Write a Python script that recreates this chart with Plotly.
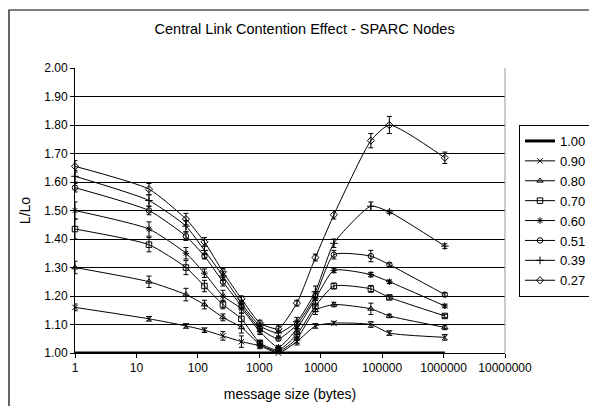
import plotly.graph_objects as go

sizes = [1, 16, 64, 128, 256, 512, 1024, 2048, 4096, 8192, 16384, 65536, 131072, 1048576]
tick_vals = [1, 10, 100, 1000, 10000, 100000, 1000000, 10000000]
tick_text = ["1", "10", "100", "1000", "10000", "100000", "1000000", "10000000"]

s100 = [1.0] * 14
s090 = [1.16, 1.12, 1.095, 1.08, 1.06, 1.04, 1.025, 1.0, 1.04, 1.095, 1.105, 1.10, 1.07, 1.055]
s080 = [1.30, 1.25, 1.205, 1.17, 1.125, 1.09, 1.03, 1.005, 1.05, 1.15, 1.17, 1.155, 1.13, 1.09]
s070 = [1.435, 1.38, 1.30, 1.235, 1.17, 1.12, 1.035, 1.01, 1.065, 1.165, 1.235, 1.225, 1.195, 1.13]
s060 = [1.50, 1.435, 1.35, 1.28, 1.20, 1.155, 1.075, 1.02, 1.085, 1.19, 1.29, 1.275, 1.25, 1.165]
s051 = [1.58, 1.50, 1.41, 1.34, 1.25, 1.165, 1.085, 1.05, 1.10, 1.20, 1.345, 1.34, 1.31, 1.205]
s039 = [1.62, 1.535, 1.445, 1.36, 1.27, 1.175, 1.095, 1.07, 1.11, 1.215, 1.385, 1.515, 1.495, 1.375]
s027 = [1.655, 1.575, 1.47, 1.39, 1.285, 1.19, 1.105, 1.085, 1.175, 1.335, 1.485, 1.745, 1.80, 1.685]

e090 = [0.012, 0.008, 0.008, 0.008, 0.015, 0.02, 0.01, 0.005, 0.012, 0.008, 0.006, 0.01, 0.008, 0.01]
e080 = [0.022, 0.02, 0.022, 0.015, 0.012, 0.02, 0.01, 0.005, 0.015, 0.015, 0.008, 0.02, 0.006, 0.008]
e070 = [0.035, 0.025, 0.025, 0.02, 0.015, 0.02, 0.01, 0.005, 0.02, 0.02, 0.01, 0.012, 0.006, 0.006]
e060 = [0.03, 0.025, 0.02, 0.015, 0.02, 0.015, 0.01, 0.005, 0.015, 0.02, 0.008, 0.008, 0.006, 0.006]
e051 = [0.015, 0.015, 0.015, 0.01, 0.015, 0.01, 0.01, 0.005, 0.015, 0.015, 0.015, 0.02, 0.006, 0.006]
e039 = [0.02, 0.02, 0.02, 0.015, 0.015, 0.01, 0.01, 0.01, 0.015, 0.02, 0.015, 0.015, 0.006, 0.008]
e027 = [0.02, 0.02, 0.02, 0.015, 0.012, 0.01, 0.01, 0.01, 0.01, 0.012, 0.015, 0.025, 0.03, 0.02]

names = ["1.00", "0.90", "0.80", "0.70", "0.60", "0.51", "0.39", "0.27"]
series = [s100, s090, s080, s070, s060, s051, s039, s027]
errors = [None, e090, e080, e070, e060, e051, e039, e027]
symbols = [None, "x-thin-open", "triangle-up-open", "square-open", "asterisk-open",
           "circle-open", "cross-thin-open", "diamond-open"]

fig = go.Figure()
for name, ys, err, sym in zip(names, series, errors, symbols):
    if err is None:
        fig.add_trace(go.Scatter(x=sizes, y=ys, name=name, mode="lines",
                                 line=dict(color="black", width=3), cliponaxis=False))
    else:
        fig.add_trace(go.Scatter(
            x=sizes, y=ys, name=name, mode="lines+markers",
            line=dict(color="black", width=1, shape="spline", smoothing=0.55),
            marker=dict(symbol=sym, size=5.5, color="black", line=dict(color="black", width=1)),
            error_y=dict(type="data", array=err, visible=True, color="black", thickness=1, width=2.5),
            cliponaxis=False))

fig.add_shape(type="rect", xref="paper", yref="paper", x0=-0.1535, x1=1.3, y0=-0.3, y1=1.2035,
              line=dict(color="black", width=1.2), layer="below")

fig.update_layout(
    width=589, height=398,
    margin=dict(l=67, r=92, t=60, b=53, autoexpand=False),
    paper_bgcolor="white", plot_bgcolor="white",
    font=dict(family="Liberation Sans, Arial, sans-serif", color="black", size=12),
    title=dict(text="Central Link Contention Effect - SPARC Nodes", x=0.5036, xanchor="center",
               y=0.947, yanchor="middle", font=dict(size=14.5)),
    xaxis=dict(type="log", range=[0, 7], tickvals=tick_vals, ticktext=tick_text,
               showgrid=False, showline=True, linecolor="black", linewidth=1,
               ticks="outside", ticklen=4, tickcolor="black",
               mirror=False, zeroline=False, automargin=False,
               title=dict(text="message size (bytes)", font=dict(size=14), standoff=14)),
    yaxis=dict(range=[1.0, 2.0], dtick=0.1, tickformat=".2f",
               showgrid=True, gridcolor="black", gridwidth=1,
               showline=True, linecolor="black", linewidth=1, automargin=False,
               ticks="outside", ticklen=4, tickcolor="black", zeroline=False,
               title=dict(text="L/Lo", font=dict(size=14), standoff=10)),
    legend=dict(x=1.0326, xanchor="left", y=0.8, yanchor="top",
                bordercolor="black", borderwidth=1, bgcolor="white",
                font=dict(size=13), itemwidth=30, tracegroupgap=0),
)
fig.add_shape(type="line", xref="paper", yref="paper", x0=1, x1=1, y0=0, y1=1,
              line=dict(color="#999999", width=1))

fig.write_html("out.html")
